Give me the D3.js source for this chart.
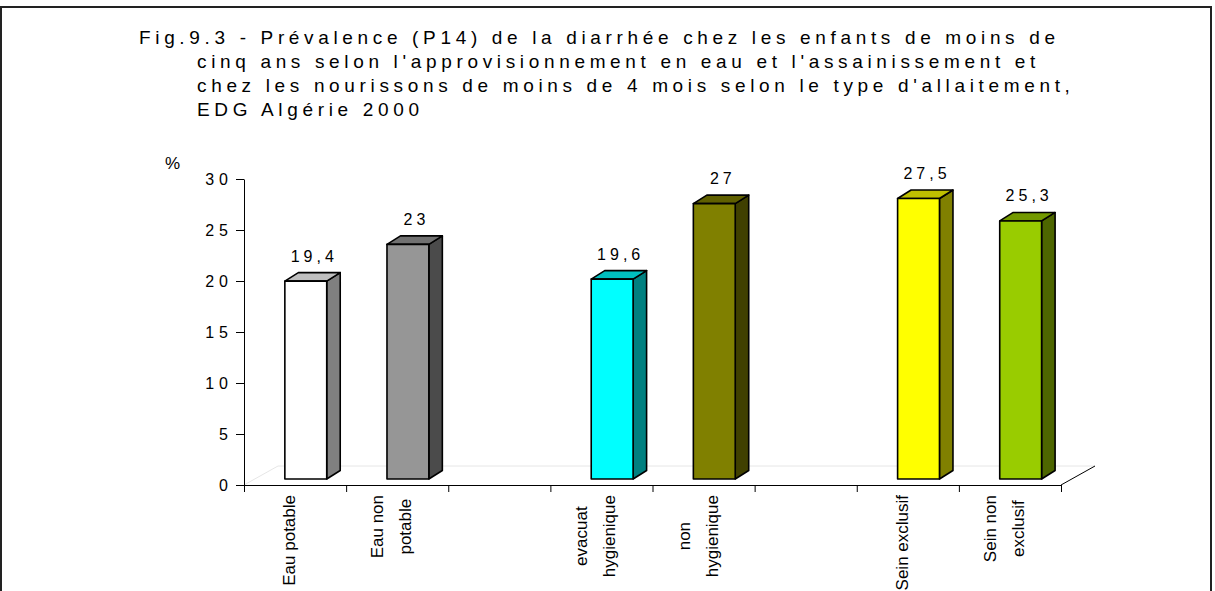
<!DOCTYPE html>
<html lang="fr">
<head>
<meta charset="UTF-8">
<title>Fig.9.3 - Prévalence de la diarrhée</title>
<script src="https://d3js.org/d3.v7.min.js"></script>
<style>
  body { margin: 0; background: #fff; }
  svg { display: block; font-family: Arial, "Liberation Sans", sans-serif; }
</style>
</head>
<body>
<svg width="1215" height="591"></svg>
<script>
// chart data
const titleLines = [
  "Fig.9.3 - Prévalence (P14) de la diarrhée chez les enfants de moins de",
  "cinq ans selon l'approvisionnement en eau et l'assainissement et",
  "chez les nourissons de moins de 4 mois selon le type d'allaitement,",
  "EDG Algérie 2000"
];
const categories = [
  ["Eau potable"], ["Eau non", "potable"], [],
  ["evacuat", "hygienique"], ["non", "hygienique"], [],
  ["Sein exclusif"], ["Sein non", "exclusif"]
];
const values = [19.4, 23, null, 19.6, 27, null, 27.5, 25.3];
const colors = ["#ffffff", "#969696", null, "#00ffff", "#808000", null, "#ffff00", "#99cc00"];
const yTicks = [0, 5, 10, 15, 20, 25, 30];

const svg = d3.select("svg");

// outer frame
svg.append("rect")
    .attr("x", 1).attr("y", 7)
    .attr("width", 1210).attr("height", 620)
    .attr("fill", "none")
    .attr("stroke", "#222")
    .attr("stroke-width", 2);

// title, spread out like the original
const title = svg.append("g");
const probe = title.append("text").attr("font-size", 19).text(titleLines[0]);
const natural = probe.node().getComputedTextLength();
probe.remove();
const spacing = (916 - natural) / (titleLines[0].length - 1);

title.selectAll("text")
  .data(titleLines)
  .join("text")
    .attr("x", (d, i) => i === 0 ? 139 : 197)
    .attr("y", (d, i) => 44 + i * 24)
    .attr("font-size", 19)
    .attr("letter-spacing", spacing)
    .attr("fill", "#000")
    .text(d => d);

// scales
const x = d3.scaleLinear().domain([0, categories.length]).range([244, 1061]);
const y = d3.scaleLinear().domain([0, 30]).range([485, 179]);
const slot = x(1) - x(0);

const depth = {dx: 34, dy: -19};     // floor depth
const bar = {dx: 13.5, dy: -8.5, lift: -6}; // bar side/top depth

// faint floor outline
const floor = svg.append("g").attr("fill", "none");
floor.append("path")
    .attr("d", `M${x(0)},${y(0)}L${x(0) + depth.dx},${y(0) + depth.dy}L${x(categories.length) + depth.dx},${y(0) + depth.dy}`)
    .attr("stroke", "#e6e6e6");
floor.append("line")
    .attr("x1", x(categories.length)).attr("y1", y(0))
    .attr("x2", x(categories.length) + depth.dx).attr("y2", y(0) + depth.dy)
    .attr("stroke", "#000");

// y axis
const yAxis = svg.append("g")
    .attr("transform", `translate(${x(0)},0)`)
    .call(d3.axisLeft(y).tickValues(yTicks).tickSize(8).tickSizeOuter(0));
yAxis.select(".domain").attr("stroke", "#000");
yAxis.selectAll("text")
    .attr("font-size", 16)
    .attr("font-family", "Arial, 'Liberation Sans', sans-serif")
    .attr("letter-spacing", 5)
    .attr("fill", "#000");

svg.append("text")
    .attr("x", 165).attr("y", 169)
    .attr("font-size", 17)
    .text("%");

// x axis (category boundaries)
const xAxis = svg.append("g")
    .attr("transform", `translate(0,${y(0)})`)
    .call(d3.axisBottom(x).tickValues(d3.range(categories.length + 1)).tickFormat("").tickSize(7).tickSizeOuter(0));
xAxis.select(".domain").attr("stroke", "#000");

// 3d bars
const shade = (c, k) => { c = d3.rgb(c); return d3.rgb(c.r * k, c.g * k, c.b * k).toString(); };

const bars = svg.append("g")
  .selectAll("g")
  .data(values.map((v, i) => ({v, i, c: colors[i]})).filter(d => d.v !== null))
  .join("g")
    .attr("stroke", "#000")
    .attr("stroke-width", 1.6)
    .attr("stroke-linejoin", "round");

const x0 = d => x(d.i) + slot * 0.40;
const x1 = d => x(d.i) + slot * 0.81;
const yt = d => y(d.v) + bar.lift;
const yb = () => y(0) + bar.lift;

bars.append("path")   // side
    .attr("fill", d => shade(d.c, 0.5))
    .attr("d", d => `M${x1(d)},${yb()}L${x1(d) + bar.dx},${yb() + bar.dy}L${x1(d) + bar.dx},${yt(d) + bar.dy}L${x1(d)},${yt(d)}Z`);

bars.append("path")   // top
    .attr("fill", d => shade(d.c, 0.75))
    .attr("d", d => `M${x0(d)},${yt(d)}L${x0(d) + bar.dx},${yt(d) + bar.dy}L${x1(d) + bar.dx},${yt(d) + bar.dy}L${x1(d)},${yt(d)}Z`);

bars.append("rect")   // front
    .attr("fill", d => d.c)
    .attr("x", x0)
    .attr("y", yt)
    .attr("width", d => x1(d) - x0(d))
    .attr("height", d => yb() - yt(d));

// value labels
svg.append("g")
  .selectAll("text")
  .data(values.map((v, i) => ({v, i})).filter(d => d.v !== null))
  .join("text")
    .attr("x", d => (x0(d) + x1(d)) / 2 + 8.5)
    .attr("y", d => yt(d) + bar.dy - 11)
    .attr("text-anchor", "middle")
    .attr("font-size", 16)
    .attr("letter-spacing", 4)
    .text(d => String(d.v).replace(".", ","));

// rotated category labels, top aligned under the axis
const lineGap = 28;
const catG = svg.append("g")
  .selectAll("g")
  .data(categories.map((lines, i) => ({lines, i})).filter(d => d.lines.length))
  .join("g");

catG.each(function(d) {
  const g = d3.select(this);
  const texts = g.selectAll("text")
    .data(d.lines)
    .join("text")
      .attr("font-size", 17)
      .attr("text-anchor", "middle")
      .text(t => t);
  const widest = d3.max(texts.nodes(), n => n.getComputedTextLength());
  const cx = x(d.i) + slot / 2;
  const cy = 495 + widest / 2;
  texts.attr("transform", (t, k) =>
    `translate(${cx + (k - (d.lines.length - 1) / 2) * lineGap},${cy}) rotate(-90)`);
});
</script>
</body>
</html>
